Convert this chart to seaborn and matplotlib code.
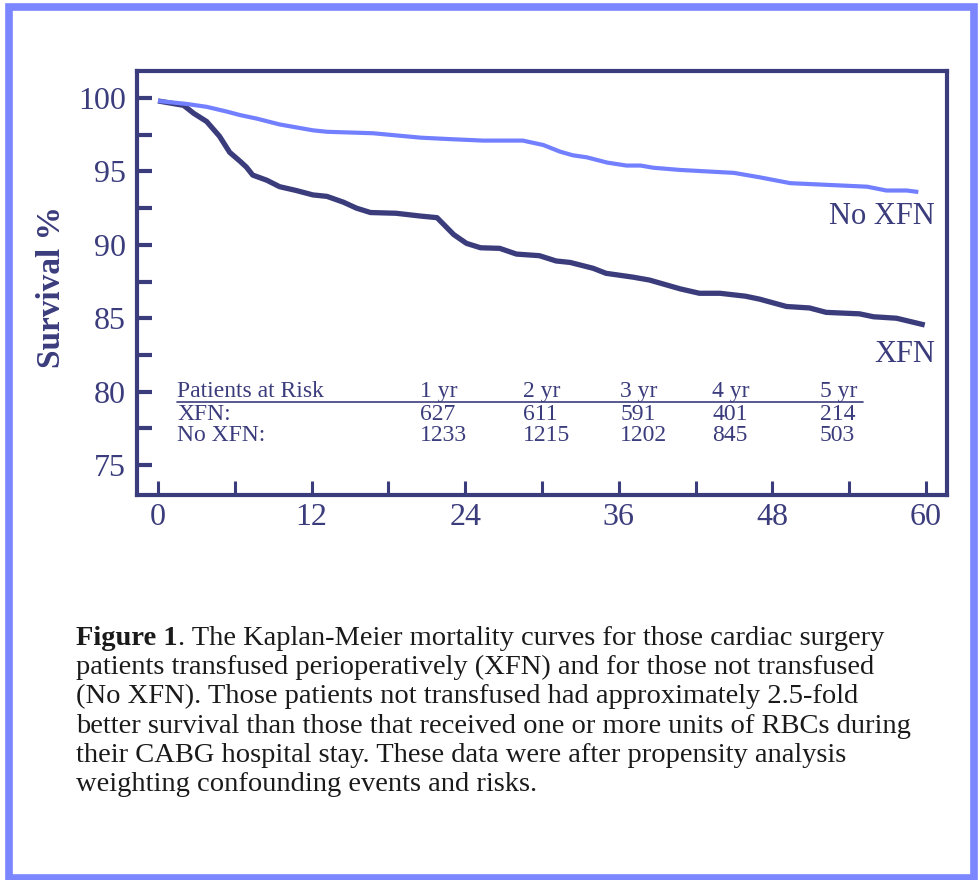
import numpy as np
import pandas as pd
import matplotlib
matplotlib.use("Agg")
import matplotlib.pyplot as plt
import seaborn as sns
from matplotlib.patches import Rectangle
from matplotlib.ticker import MultipleLocator

# Kaplan-Meier curves (months, survival %)
months_xfn = [0, 2.0, 2.8, 3.8, 4.8, 5.6, 6.4, 6.9, 7.4, 8.5, 9.5, 10.8, 12.1, 13.2,
              14.5, 15.5, 16.6, 18.6, 20.5, 21.8, 23.1, 24.1, 25.2, 26.7, 28.0, 29.8,
              31.1, 32.2, 34.0, 35.0, 37.1, 38.4, 40.8, 42.3, 43.9, 45.9, 47.0, 49.1,
              50.9, 52.2, 54.8, 55.9, 57.7, 59.9]
surv_xfn = [99.8, 99.5, 98.95, 98.4, 97.4, 96.3, 95.7, 95.3, 94.75, 94.4, 93.96, 93.7,
            93.4, 93.3, 92.9, 92.5, 92.2, 92.15, 91.96, 91.85, 90.7, 90.1, 89.8, 89.76,
            89.37, 89.26, 88.9, 88.8, 88.4, 88.06, 87.8, 87.6, 87.0, 86.7, 86.7, 86.5,
            86.3, 85.8, 85.7, 85.4, 85.3, 85.1, 85.0, 84.54]

months_noxfn = [0, 2.2, 3.8, 5.4, 6.4, 7.7, 9.5, 12.1, 13.2, 16.8, 20.5, 22.8, 25.4,
                28.5, 30.1, 31.4, 32.4, 33.5, 35.1, 36.6, 37.7, 38.7, 40.8, 45.0, 47.0,
                49.4, 55.4, 56.9, 58.5, 59.4]
surv_noxfn = [99.8, 99.6, 99.4, 99.07, 98.84, 98.6, 98.2, 97.8, 97.7, 97.6, 97.3, 97.2,
              97.1, 97.1, 96.8, 96.35, 96.1, 95.96, 95.6, 95.4, 95.4, 95.25, 95.1, 94.9,
              94.6, 94.2, 93.96, 93.7, 93.7, 93.6]

# patients at risk table
risk_years = ["1 yr", "2 yr", "3 yr", "4 yr", "5 yr"]
risk_xfn = [627, 611, 591, 401, 214]
risk_noxfn = [1233, 1215, 1202, 845, 503]

caption_lines = [
    "patients transfused perioperatively (XFN) and for those not transfused",
    "(No XFN). Those patients not transfused had approximately 2.5-fold",
    "better survival than those that received one or more units of RBCs during",
    "their CABG hospital stay. These data were after propensity analysis",
    "weighting confounding events and risks.",
]

navy = "#3b3c7c"
light = "#7280ff"
frame_col = "#7b86ff"

sns.set_style("white")
plt.rcParams["font.family"] = ["Liberation Serif", "DejaVu Serif"]

df = pd.concat([
    pd.DataFrame({"month": months_xfn, "survival": surv_xfn, "group": "XFN"}),
    pd.DataFrame({"month": months_noxfn, "survival": surv_noxfn, "group": "No XFN"}),
])

fig = plt.figure(figsize=(9.8, 8.8), dpi=100)
ax = fig.add_axes([137 / 980, 1 - 495 / 880, 810 / 980, 424 / 880])

sns.lineplot(data=df, x="month", y="survival", hue="group", estimator=None, sort=False,
             palette={"XFN": navy, "No XFN": light}, legend=False, ax=ax)
for ln, lw in zip(ax.lines, [3.8, 3.0]):
    ln.set_linewidth(lw)
    ln.set_solid_capstyle("butt")

ax.set_xlim(-1.64, 61.64)
ax.set_ylim(72.96, 101.84)
ax.xaxis.set_major_locator(MultipleLocator(12))
ax.xaxis.set_minor_locator(MultipleLocator(6))
ax.yaxis.set_major_locator(MultipleLocator(5))
ax.yaxis.set_minor_locator(MultipleLocator(2.5))
ax.set_yticks(np.arange(75, 101, 5))
ax.set_xticks(np.arange(0, 61, 12))

ax.tick_params(axis="y", which="both", direction="in", length=11, width=3, color=navy,
               labelsize=23, labelcolor=navy, pad=8, left=True)
ax.tick_params(axis="x", which="both", direction="in", length=10, width=2.2, color=navy,
               labelsize=23, labelcolor=navy, pad=6, bottom=True)
for s in ax.spines.values():
    s.set_color(navy)
    s.set_linewidth(3)

ax.set_xlabel("")
ax.set_ylabel("Survival %", fontsize=24, fontweight="bold", color=navy)
ax.yaxis.set_label_coords(-0.086, 0.49)

# curve labels
ax.text(60.7, 91.9, "No XFN", ha="right", va="center", fontsize=22, color=navy)
ax.text(60.7, 82.5, "XFN", ha="right", va="center", fontsize=22, color=navy)

# patients at risk table
col_x = [20.5, 28.5, 36.1, 43.3, 51.7]
tfs = 17
rows_y = [80.0, 78.45, 77.0]
ax.text(1.5, rows_y[0], "Patients at Risk", fontsize=tfs, color=navy, va="center")
ax.text(1.5, rows_y[1], "XFN:", fontsize=tfs, color=navy, va="center")
ax.text(1.5, rows_y[2], "No XFN:", fontsize=tfs, color=navy, va="center")
for cx, yr, a, b in zip(col_x, risk_years, risk_xfn, risk_noxfn):
    ax.text(cx, rows_y[0], yr, fontsize=tfs, color=navy, va="center")
    ax.text(cx, rows_y[1], str(a), fontsize=tfs, color=navy, va="center")
    ax.text(cx, rows_y[2], str(b), fontsize=tfs, color=navy, va="center")
ax.plot([1.5, 55.1], [79.3, 79.3], color=navy, lw=1.2)

# caption
cfs = 20.5
x0 = 76 / 980
base0 = 645
t1 = fig.text(x0, 1 - base0 / 880, "Figure 1", fontsize=cfs, fontweight="bold",
              color="#1a1a1a", va="baseline")
fig.canvas.draw()
bb = t1.get_window_extent()
fig.text(bb.x1 / fig.bbox.width, 1 - base0 / 880,
         ". The Kaplan-Meier mortality curves for those cardiac surgery",
         fontsize=cfs, color="#1a1a1a", va="baseline")
for i, line in enumerate(caption_lines):
    fig.text(x0, 1 - (base0 + 29.2 * (i + 1)) / 880, line, fontsize=cfs,
             color="#1a1a1a", va="baseline")

# outer frame
fig.patches.append(Rectangle((9 / 980, 2 / 880), 965 / 980, 870.5 / 880,
                             transform=fig.transFigure, fill=False,
                             edgecolor=frame_col, linewidth=5.5))

fig.savefig("out.png", dpi=100)
